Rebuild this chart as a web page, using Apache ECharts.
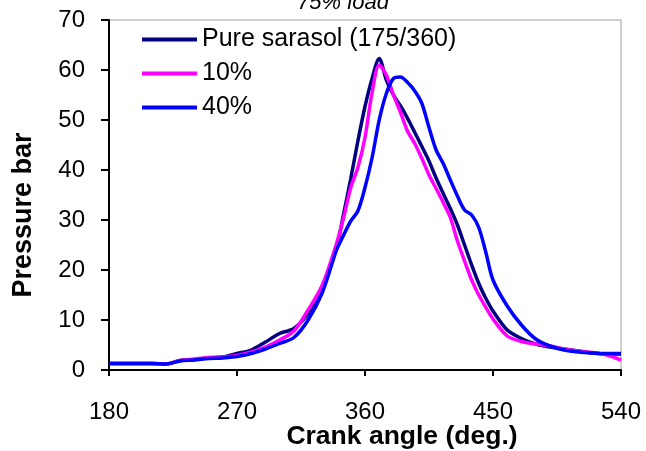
<!DOCTYPE html>
<html>
<head>
<meta charset="utf-8">
<script src="https://cdn.jsdelivr.net/npm/echarts@6/dist/echarts.min.js"></script>
<style>html,body{margin:0;padding:0;background:#fff}#c{width:646px;height:451px}</style>
</head>
<body>
<div id="c"></div>
<script>
const angles = [180,190,200,210,220,230,240,250,260,270,280,290,300,310,320,330,340,345,350,355,360,365,370,375,380,385,390,395,400,405,410,415,420,425,430,435,440,445,450,460,470,480,490,500,510,520,530,540];
const pureSarasol = [1.3,1.3,1.3,1.3,1.2,1.9,2.1,2.4,2.6,3.3,4.0,5.6,7.3,8.3,11.3,16.5,24.5,31.3,38.3,45.8,52.7,58.3,62.3,58,55,52.8,50.3,47.5,44.7,41.8,38.4,35.3,32.3,29,25,21,17.3,14.3,11.8,8,6.3,5.2,4.6,4.2,3.8,3.4,3.2,3.2];
const blend10 = [1.3,1.3,1.3,1.3,1.2,1.9,2.2,2.5,2.6,2.9,3.6,4.6,6.0,7.8,12,17,25.3,30.5,36.5,40.5,46.5,55.5,61,59,55,51.5,47.7,45.3,42.3,39,36.3,33.5,30.5,25.8,21.8,18,15,12.5,10.2,6.8,5.7,5.2,4.8,4.2,3.8,3.5,3.0,2.0];
const blend40 = [1.3,1.3,1.3,1.3,1.2,1.8,2.0,2.3,2.4,2.7,3.3,4.2,5.3,6.5,10,15.5,24,27,29.8,31.8,36.5,42.5,50,55.3,58.3,58.6,57.5,55.8,53.3,48.5,44,41.3,38,34.8,32,31,28.5,23.5,18,12.8,9,6.2,4.8,4.0,3.6,3.4,3.3,3.3];
const seriesNames = ['Pure sarasol (175/360)','10%','40%'];
const seriesColors = ['#000080','#ff00ff','#0000ff'];
const xTicks = {min:180,max:540,interval:90};
const yTicks = {min:0,max:70,interval:10};

const allData = [pureSarasol, blend10, blend40];
const chart = echarts.init(document.getElementById('c'));
const font = '"Liberation Sans", Arial, sans-serif';
chart.setOption({
  animation:false,
  title:{text:'75% load',left:338,top:-13,textAlign:'center',
    textStyle:{fontFamily:font,fontStyle:'italic',fontWeight:'normal',fontSize:22,color:'#000'}},
  grid:{left:109,right:25,top:20,bottom:81,show:true,borderColor:'#a0a0a0',borderWidth:1,
    containLabel:false,outerBoundsMode:'none'},
  legend:{orient:'vertical',left:137,top:22,itemWidth:55,itemHeight:4,itemGap:9,icon:'rect',
    textStyle:{fontFamily:font,fontSize:25,color:'#000',lineHeight:22},
    data:seriesNames.map((n,i)=>({name:n,icon:'rect',itemStyle:{color:seriesColors[i]}}))},
  xAxis:{type:'value',min:xTicks.min,max:xTicks.max,interval:xTicks.interval,
    name:'Crank angle (deg.)',nameLocation:'middle',nameGap:53,nameMoveOverlap:false,
    nameTextStyle:{fontFamily:font,fontWeight:'bold',fontSize:26.5,color:'#000',padding:[0,0,0,74]},
    axisLine:{lineStyle:{color:'#000',width:2}},
    axisTick:{show:true,inside:false,length:6,lineStyle:{color:'#000',width:2}},
    axisLabel:{margin:30,fontFamily:font,fontSize:24,color:'#000'},
    splitLine:{show:false}},
  yAxis:{type:'value',min:yTicks.min,max:yTicks.max,interval:yTicks.interval,
    name:'Pressure bar',nameLocation:'middle',nameGap:72,nameMoveOverlap:false,
    nameTextStyle:{fontFamily:font,fontWeight:'bold',fontSize:27,color:'#000',padding:[0,40,0,0]},
    axisLine:{show:true,lineStyle:{color:'#000',width:2}},
    axisTick:{show:true,inside:false,length:8,lineStyle:{color:'#000',width:2}},
    axisLabel:{margin:24,fontFamily:font,fontSize:24,color:'#000'},
    splitLine:{show:false}},
  series: seriesNames.map((n,i)=>({
    name:n,type:'line',smooth:0.3,symbol:'none',
    data:angles.map((a,j)=>[a,allData[i][j]]),
    lineStyle:{color:seriesColors[i],width:3.5},
    itemStyle:{color:seriesColors[i]},
    z:2+i
  }))
});
</script>
</body>
</html>
